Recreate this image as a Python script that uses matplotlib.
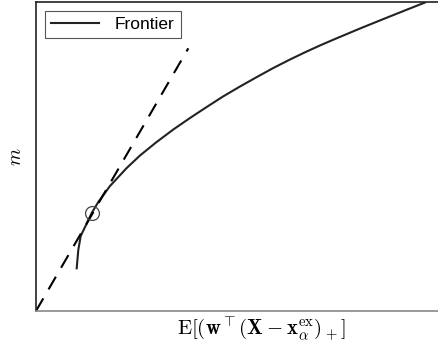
import numpy as np
import matplotlib
matplotlib.use("Agg")
import matplotlib.pyplot as plt

plt.rcParams['mathtext.fontset'] = 'cm'
plt.rcParams['font.family'] = ['Liberation Sans', 'DejaVu Sans']

# frontier (arbitrary units)
frontier_x = [40.7, 42.3, 44.7, 50.0, 55.7, 62.3, 74.0, 90.7, 104.0, 120.0,
              137.3, 154.0, 170.7, 187.0, 204.0, 220.0, 237.3, 254.0, 270.7,
              285.0, 299.0, 324.0, 350.0, 370.0, 389.0]
frontier_y = [42.7, 61.0, 75.0, 86.0, 98.0, 109.0, 125.0, 143.0, 155.5, 168.5,
              181.5, 193.0, 204.0, 214.5, 224.5, 233.5, 243.0, 251.5, 259.5,
              266.0, 272.0, 282.5, 293.0, 301.0, 308.5]

# tangent line and tangency point
tangent_x = [0.0, 152.3]
tangent_y = [0.0, 262.7]
point_x = [55.7]
point_y = [98.0]

fig = plt.figure(figsize=(4.38, 3.45), dpi=100)
ax = fig.add_axes([36 / 438, 34 / 345, 450 / 438, 309 / 345])

ax.plot(frontier_x, frontier_y, color='#222222', lw=1.5, label='Frontier')
ax.plot(tangent_x, tangent_y, color='black', lw=1.5, ls=(0, (7, 5)))
ax.plot(point_x, point_y, 'o', ms=10, mfc='none', mec='#444444', mew=0.9)

ax.set_xlim(0, 450)
ax.set_ylim(0, 309)
ax.set_xticks([])
ax.set_yticks([])
for s in ['left', 'top']:
    ax.spines[s].set_color('#222222')
ax.spines['bottom'].set_color('#888888')
ax.spines['right'].set_visible(False)
for s in ax.spines.values():
    s.set_linewidth(1.2)

ax.set_xlabel(r'$\mathrm{E}[(\mathbf{w}^\top(\mathbf{X}-\mathbf{x}_\alpha^{\rm ex})_+]$',
              fontsize=15, labelpad=3)
ax.set_ylabel(r'$m$', fontsize=14, labelpad=8)

leg = ax.legend(loc='upper left', fontsize=12.5, handlelength=2.8,
                fancybox=False, framealpha=1, borderaxespad=0.5,
                borderpad=0.35, handletextpad=0.9)
leg.get_frame().set_edgecolor('#555555')
leg.get_frame().set_linewidth(0.8)

fig.savefig('out.png', dpi=100)
